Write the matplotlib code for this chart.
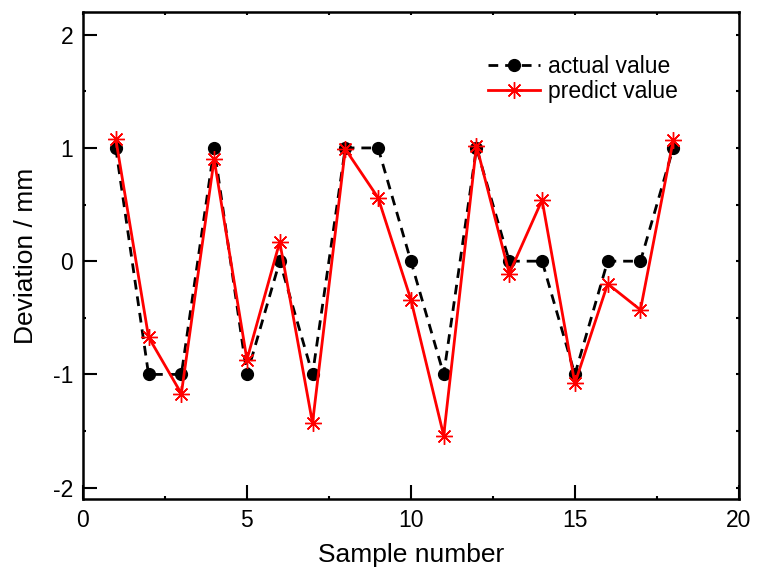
import matplotlib.pyplot as plt
import numpy as np

plt.rcParams['font.family'] = ['Liberation Sans', 'DejaVu Sans']
plt.rcParams['axes.unicode_minus'] = False

# Daten
sample = np.arange(1, 19)
actual = [1, -1, -1, 1, -1, 0, -1, 1, 1, 0, -1, 1, 0, 0, -1, 0, 0, 1]
predict = [1.08, -0.67, -1.17, 0.90, -0.87, 0.17, -1.43, 0.99, 0.56,
           -0.34, -1.54, 1.02, -0.11, 0.54, -1.08, -0.20, -0.43, 1.07]

fig = plt.figure(figsize=(7.57, 5.74), dpi=100)
ax = fig.add_axes([0.1096, 0.1307, 0.8664, 0.8483])

ax.plot(sample, actual, color='black', linestyle=(0, (3.5, 2.5)), linewidth=2,
        marker='o', markersize=8.5, label='actual value')
ax.plot(sample, predict, color='red', linewidth=2,
        marker=(8, 2, 0), markersize=12, markeredgewidth=1.0, label='predict value')

ax.set_xlim(0, 20)
ax.set_ylim(-2.1, 2.2)
ax.set_xticks([0, 5, 10, 15, 20])
ax.set_yticks([-2, -1, 0, 1, 2])
ax.set_xticks(np.arange(2.5, 20, 5), minor=True)
ax.set_yticks(np.arange(-1.5, 2.0, 1), minor=True)

ax.tick_params(which='major', direction='in', length=10, width=1.5,
               labelsize=16.5, pad=7)
ax.tick_params(which='minor', direction='in', length=2, width=1.5)
for s in ax.spines.values():
    s.set_linewidth(1.8)

# kleine Ticks oben und rechts
top = ax.secondary_xaxis('top')
top.set_xticks(np.arange(0, 20.1, 2.5))
top.tick_params(direction='in', length=2, width=1.5, labeltop=False)
right = ax.secondary_yaxis('right')
right.set_yticks(np.arange(-2, 2.1, 0.5))
right.tick_params(direction='in', length=2, width=1.5, labelright=False)

ax.set_xlabel('Sample number', fontsize=19, labelpad=8)
ax.set_ylabel('Deviation / mm', fontsize=19, labelpad=11)

ax.legend(loc='upper right', bbox_to_anchor=(0.939, 0.955), frameon=False,
          fontsize=16.5, handlelength=2.3, handletextpad=0.35, labelspacing=0.12)

fig.savefig('out.png', dpi=100)
